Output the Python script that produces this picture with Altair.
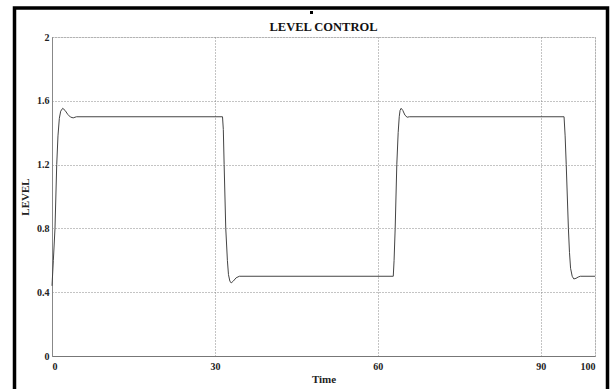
import altair as alt
import pandas as pd

time = [0, 0.25, 0.55, 0.87, 1.1, 1.35, 1.6, 1.97, 2.4, 2.9, 3.4, 3.9, 4.5,
        31.4, 31.55, 31.7, 32.0, 32.3, 32.5, 32.75, 33.0, 33.4, 33.9, 34.5,
        62.85, 63.0, 63.2, 63.5, 63.75, 63.95, 64.1, 64.3, 64.6, 65.0, 65.4, 65.8,
        94.3, 94.5, 94.7, 95.1, 95.3, 95.5, 95.8, 96.1, 96.5, 96.9, 97.3, 100]
level = [0.44, 0.6, 0.8, 1.2, 1.38, 1.49, 1.535, 1.553, 1.54, 1.515, 1.498, 1.493, 1.5,
         1.5, 1.42, 1.2, 0.8, 0.6, 0.51, 0.47, 0.458, 0.47, 0.49, 0.5,
         0.5, 0.6, 0.8, 1.2, 1.4, 1.5, 1.54, 1.553, 1.54, 1.51, 1.497, 1.5,
         1.5, 1.38, 1.2, 0.8, 0.65, 0.55, 0.5, 0.483, 0.487, 0.495, 0.5, 0.5]

x_ticks = [0, 30, 60, 90, 100]
y_ticks = [0, 0.4, 0.8, 1.2, 1.6, 2]
title_text = "LEVEL CONTROL"

df = pd.DataFrame({"Time": time, "LEVEL": level})

FONT = "Liberation Serif"
W, H = 543, 319

line = alt.Chart(df).mark_line(color="#444444", strokeWidth=1).encode(
    x=alt.X("Time:Q",
            scale=alt.Scale(domain=[0, 100], nice=False, zero=False),
            axis=alt.Axis(values=x_ticks, format="d", title="Time",
                          grid=True, gridColor="#888888", gridDash=[1, 2], gridWidth=1,
                          domainColor="#777777", ticks=False,
                          labelFont=FONT, labelFontWeight="bold", labelFontSize=10,
                          labelColor="#222222", labelPadding=5,
                          titleFont=FONT, titleFontWeight="bold", titleFontSize=11,
                          titleColor="#222222", titlePadding=2)),
    y=alt.Y("LEVEL:Q",
            scale=alt.Scale(domain=[0, 2], nice=False),
            axis=alt.Axis(values=y_ticks, format="~g", title="LEVEL",
                          grid=True, gridColor="#888888", gridDash=[1, 2], gridWidth=1,
                          domainColor="#888888", ticks=False,
                          labelFont=FONT, labelFontWeight="bold", labelFontSize=10,
                          labelColor="#222222", labelPadding=3,
                          titleFont=FONT, titleFontWeight="bold", titleFontSize=11,
                          titleColor="#222222", titlePadding=6)),
)

frame_src = alt.Data(values=[{"k": 1}])
frame = alt.Chart(frame_src).mark_rect(fill=None, stroke="black", strokeWidth=3.5).encode(
    x=alt.value(-37.5), x2=alt.value(555.5), y=alt.value(-29), y2=alt.value(362)
)
dot = alt.Chart(frame_src).mark_rect(fill="black").encode(
    x=alt.value(258), x2=alt.value(261), y=alt.value(-26), y2=alt.value(-23)
)
title = alt.Chart(frame_src).mark_text(
    text=title_text, font=FONT, fontWeight="bold", fontSize=12.5, color="#111111",
    align="center", baseline="alphabetic"
).encode(x=alt.value(W / 2), y=alt.value(-6))

chart = alt.layer(line, frame, dot, title).properties(
    width=W, height=H,
    autosize=alt.AutoSizeParams(type="none"),
    padding={"left": 52, "top": 37, "right": 15, "bottom": 33},
).configure_view(stroke=None).configure(background="white")

chart.save("out.html", embed_options={"renderer": "svg", "actions": False})
